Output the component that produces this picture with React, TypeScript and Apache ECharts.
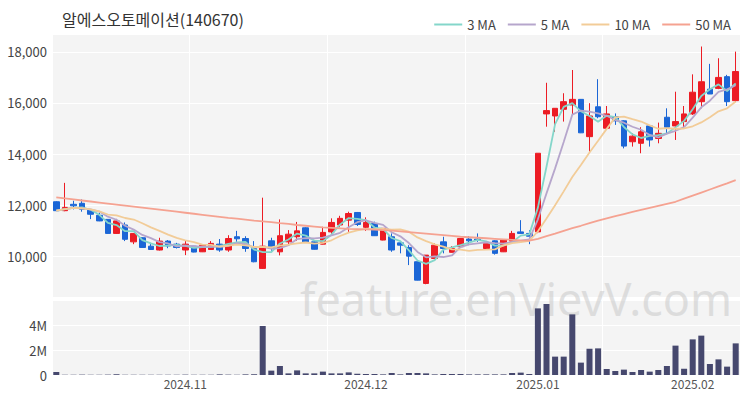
import React, { useEffect, useRef } from "react";
import * as echarts from "echarts";

const FONT = '"Noto Sans CJK KR", "Noto Sans", sans-serif';

const dates = [
  "2024-10-11", "2024-10-14", "2024-10-15", "2024-10-16", "2024-10-17", "2024-10-18",
  "2024-10-21", "2024-10-22", "2024-10-23", "2024-10-24", "2024-10-25",
  "2024-10-28", "2024-10-29", "2024-10-30", "2024-10-31",
  "2024-11-01", "2024-11-04", "2024-11-05", "2024-11-06", "2024-11-07", "2024-11-08",
  "2024-11-11", "2024-11-12", "2024-11-13", "2024-11-14", "2024-11-15",
  "2024-11-18", "2024-11-19", "2024-11-20", "2024-11-21", "2024-11-22",
  "2024-11-25", "2024-11-26", "2024-11-27", "2024-11-28", "2024-11-29",
  "2024-12-02", "2024-12-03", "2024-12-04", "2024-12-05", "2024-12-06",
  "2024-12-09", "2024-12-10", "2024-12-11", "2024-12-12", "2024-12-13",
  "2024-12-16", "2024-12-17", "2024-12-18", "2024-12-19", "2024-12-20",
  "2024-12-23", "2024-12-24", "2024-12-26", "2024-12-27", "2024-12-30",
  "2025-01-02", "2025-01-03", "2025-01-06", "2025-01-07", "2025-01-08", "2025-01-09", "2025-01-10",
  "2025-01-13", "2025-01-14", "2025-01-15", "2025-01-16", "2025-01-17",
  "2025-01-20", "2025-01-21", "2025-01-22", "2025-01-23", "2025-01-24", "2025-01-31",
  "2025-02-03", "2025-02-04", "2025-02-05", "2025-02-06", "2025-02-07", "2025-02-10",
];

const opens = [
  12130, 11780, 12030, 12070, 11800, 11600, 11440, 10890, 11220, 10560,
  10720, 10390, 10240, 10590, 10470, 10240, 10390, 10170, 10260, 10470,
  10240, 10760, 10690, 10300, 9520, 10600, 10170, 10560, 10760, 11110,
  10560, 10470, 10950, 11220, 11410, 11710, 11130, 11280, 10630, 10760,
  10520, 10340, 9780, 8930, 9910, 10560, 10150, 10370, 10670, 10670,
  10300, 10600, 10170, 10590, 10950, 10890, 10950, 15570, 15490, 15750,
  15920, 16140, 14680, 15850, 15010, 15460, 15300, 14480, 14420, 15100,
  14610, 15440, 15100, 15270, 15570, 16050, 16540, 16570, 17030, 16090,
];

const closes = [
  11780, 11910, 11970, 11840, 11640, 11380, 10890, 11380, 10660, 10890,
  10340, 10260, 10590, 10400, 10340, 10470, 10160, 10430, 10500, 10240,
  10690, 10680, 10300, 9780, 10390, 10300, 10800, 10860, 10990, 10560,
  10270, 10930, 11320, 11480, 11670, 11240, 11320, 10800, 11090, 10240,
  10430, 10000, 9060, 10040, 10430, 10300, 10300, 10690, 10600, 10630,
  10500, 10110, 10630, 10890, 10890, 10780, 14030, 15700, 15790, 16050,
  16140, 14830, 15490, 15460, 15570, 15300, 14310, 14700, 14870, 14550,
  14810, 15050, 15270, 15570, 16420, 16830, 16350, 17000, 16050, 17230,
];

const lows = [
  11770, 11760, 11830, 11740, 11450, 11370, 10880, 10870, 10590, 10470,
  10330, 10250, 10220, 10310, 10300, 10040, 10150, 10160, 10250, 10170,
  10170, 10560, 10170, 9760, 9500, 10210, 10030, 10470, 10600, 10550,
  10260, 10460, 10860, 11130, 10950, 11180, 10990, 10790, 10620, 10170,
  10110, 9650, 9050, 8900, 9900, 10110, 10140, 10360, 10430, 10560,
  10240, 10060, 10160, 10580, 10880, 10470, 10900, 15070, 14870, 15270,
  15530, 14820, 14090, 15400, 14940, 15140, 14220, 14290, 14030, 14290,
  14420, 14810, 14550, 15050, 15530, 15790, 16350, 16540, 15880, 16050,
];

const highs = [
  12150, 12870, 12170, 12220, 11830, 11700, 11450, 11460, 11320, 10900,
  10740, 10520, 10720, 10630, 10520, 10630, 10400, 10450, 10590, 10670,
  10820, 10990, 10780, 10590, 12290, 10720, 11440, 11020, 11340, 11130,
  10590, 11150, 11480, 11580, 11740, 11730, 11520, 11350, 11100, 10890,
  10560, 10430, 9790, 10040, 10500, 10760, 10390, 10700, 10780, 10890,
  10560, 10620, 10640, 10990, 11410, 11020, 14030, 16790, 15800, 16380,
  17290, 16150, 15990, 16930, 15880, 15590, 15320, 14810, 15050, 15100,
  15230, 15790, 16440, 15880, 17120, 18210, 17530, 17750, 17100, 18010,
];

const volumes = [
  240000, 30000, 20000, 30000, 20000, 20000, 30000, 60000, 30000, 20000,
  20000, 20000, 20000, 20000, 20000, 30000, 20000, 20000, 20000, 50000,
  30000, 20000, 50000, 60000, 3920000, 350000, 720000, 130000, 370000, 130000,
  130000, 270000, 130000, 130000, 210000, 100000, 80000, 80000, 50000, 160000,
  50000, 160000, 160000, 130000, 50000, 80000, 80000, 80000, 50000, 50000,
  50000, 50000, 50000, 160000, 190000, 80000, 5330000, 5680000, 1470000, 1470000,
  4850000, 990000, 2100000, 2130000, 480000, 320000, 430000, 240000, 400000, 270000,
  400000, 720000, 2350000, 500000, 2850000, 3150000, 880000, 1250000, 670000, 2530000,
];

const ma50 = [
  12300, 12260, 12220, 12180, 12140, 12100, 12060, 12020, 11980, 11940,
  11900, 11860, 11820, 11780, 11740, 11700, 11660, 11620, 11580, 11540,
  11500, 11470, 11430, 11390, 11360, 11330, 11290, 11260, 11220, 11190,
  11160, 11130, 11110, 11090, 11070, 11060, 11050, 11040, 11020, 11000,
  10970, 10940, 10910, 10880, 10850, 10820, 10790, 10760, 10740, 10720,
  10700, 10680, 10660, 10640, 10620, 10610, 10680, 10780, 10880, 10990,
  11100, 11190, 11290, 11390, 11480, 11570, 11650, 11730, 11810, 11890,
  11970, 12050, 12130, 12250, 12370, 12490, 12610, 12730, 12850, 12980,
];

const legendNames = ["3 MA", "5 MA", "10 MA", "50 MA"];
const maColors = ["#84d6ca", "#b6a6cc", "#f2cc98", "#f5a291"];

function movingAverage(values: number[], n: number): number[] {
  return values.map((_, i) => {
    const w = values.slice(Math.max(0, i - n + 1), i + 1);
    return Math.round(w.reduce((a, b) => a + b, 0) / w.length);
  });
}

const isMonthStart = (i: number) =>
  i > 0 && dates[i].slice(0, 7) !== dates[i - 1].slice(0, 7);

export default function App() {
  const ref = useRef<HTMLDivElement>(null);

  useEffect(() => {
    document.body.style.margin = "0";
    if (!ref.current) return;
    const chart = echarts.init(ref.current, undefined, { renderer: "svg" });
    const candles = dates.map((_, i) => [opens[i], closes[i], lows[i], highs[i]]);
    const maData = [
      movingAverage(closes, 3),
      movingAverage(closes, 5),
      movingAverage(closes, 10),
      ma50,
    ];

    const catAxisCommon = {
      type: "category",
      data: dates,
      boundaryGap: true,
      axisLine: { show: false },
      axisTick: { show: false },
      splitLine: { show: true, interval: 15, lineStyle: { color: "#ffffff", width: 1 } },
    };

    chart.setOption({
      animation: false,
      backgroundColor: "#ffffff",
      textStyle: { fontFamily: FONT },
      title: {
        text: "알에스오토메이션(140670)",
        left: 57,
        top: 6,
        textStyle: { fontSize: 16, fontWeight: "normal", color: "#333", fontFamily: FONT },
      },
      legend: {
        data: legendNames,
        icon: "rect",
        top: 13,
        right: 14,
        itemWidth: 28,
        itemHeight: 2,
        itemGap: 12,
        textStyle: { fontSize: 13, color: "#444", fontFamily: FONT },
      },
      grid: [
        { left: 52, right: 10, top: 34, height: 263, show: true, backgroundColor: "#f4f4f4", borderWidth: 0 },
        { left: 52, right: 10, top: 300, height: 75, show: true, backgroundColor: "#f4f4f4", borderWidth: 0 },
      ],
      xAxis: [
        { ...catAxisCommon, gridIndex: 0, axisLabel: { show: false } },
        {
          ...catAxisCommon,
          gridIndex: 1,
          axisLabel: {
            show: true,
            interval: (i: number) => isMonthStart(i),
            formatter: (v: string) => v.slice(0, 7).replace("-", "."),
            color: "#555",
            fontSize: 12,
            margin: 2,
            fontFamily: FONT,
          },
        },
      ],
      yAxis: [
        {
          type: "value",
          gridIndex: 0,
          min: 8400,
          max: 18700,
          splitNumber: 5,
          axisLine: { show: false },
          axisTick: { show: false },
          splitLine: { lineStyle: { color: "#ffffff", width: 1 } },
          axisLabel: {
            showMinLabel: false,
            showMaxLabel: false,
            formatter: (v: number) => v.toLocaleString("en-US"),
            color: "#444",
            fontSize: 13,
            margin: 5,
            fontFamily: FONT,
          },
        },
        {
          type: "value",
          gridIndex: 1,
          min: 0,
          max: 6000000,
          interval: 2000000,
          axisLine: { show: false },
          axisTick: { show: false },
          splitLine: { lineStyle: { color: "#ffffff", width: 1 } },
          axisLabel: {
            showMaxLabel: false,
            formatter: (v: number) => (v === 0 ? "0" : v / 1000000 + "M"),
            color: "#444",
            fontSize: 13,
            margin: 5,
            fontFamily: FONT,
          },
        },
      ],
      graphic: [
        {
          type: "text",
          x: 300,
          y: 298,
          z: 1,
          silent: true,
          style: {
            text: "feature.enVievV.com",
            fontSize: 45,
            fontFamily: '"Noto Sans", sans-serif',
            fill: "rgba(205,205,205,0.6)",
            textVerticalAlign: "middle",
            verticalAlign: "middle",
          },
        },
      ],
      series: [
        {
          name: "price",
          type: "candlestick",
          xAxisIndex: 0,
          yAxisIndex: 0,
          data: candles,
          barWidth: "70%",
          itemStyle: {
            color: "#ec1c24",
            color0: "#1b66d6",
            borderColor: "#ec1c24",
            borderColor0: "#1b66d6",
            borderWidth: 1,
          },
        },
        ...legendNames.map((name, k) => ({
          name,
          type: "line",
          xAxisIndex: 0,
          yAxisIndex: 0,
          data: maData[k],
          symbol: "none",
          showSymbol: false,
          smooth: false,
          z: 3,
          lineStyle: { color: maColors[k], width: 1.8 },
          itemStyle: { color: maColors[k] },
        })),
        {
          name: "volume",
          type: "bar",
          xAxisIndex: 1,
          yAxisIndex: 1,
          data: volumes,
          barWidth: "70%",
          itemStyle: { color: "#46486e" },
        },
      ],
    });

    return () => chart.dispose();
  }, []);

  return <div ref={ref} style={{ width: 750, height: 400 }} />;
}
